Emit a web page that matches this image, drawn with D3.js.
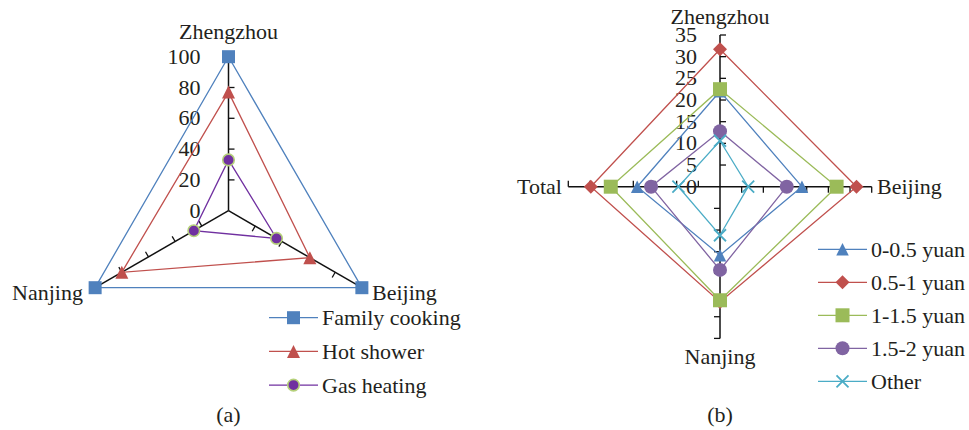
<!DOCTYPE html>
<html>
<head>
<meta charset="utf-8">
<script src="https://cdn.jsdelivr.net/npm/d3@7"></script>
<style>
  body { margin: 0; background: #fff; }
  svg text { font-family: "Liberation Serif", "Times New Roman", serif; font-size: 22px; fill: #231f20; }
</style>
</head>
<body>
<svg id="chart" width="969" height="430"></svg>
<script>
// chart (a)
const citiesA = ["Zhengzhou", "Beijing", "Nanjing"];
const familyCooking = [100, 100, 100];
const hotShower = [77, 61, 80];
const gasHeating = [33, 36, 26];
const ticksA = [0, 20, 40, 60, 80, 100];

// chart (b)
const citiesB = ["Zhengzhou", "Beijing", "Nanjing", "Total"];
const yuan0to05 = [22, 18.9, 15.8, 19.1];
const yuan05to1 = [31.7, 31.5, 26.6, 29.8];
const yuan1to15 = [22.5, 26.9, 26.2, 25.2];
const yuan15to2 = [12.8, 15.4, 19.2, 15.9];
const other = [10.6, 6.5, 11.2, 9.6];
const ticksB = [0, 5, 10, 15, 20, 25, 30, 35];

const svg = d3.select("#chart");

const colors = {
  blue: "#4f81bd", red: "#c0504d", green: "#9bbb59",
  purple: "#8064a2", cyan: "#4bacc6", violet: "#7030a0"
};

function addText(parent, x, y, anchor, str) {
  return parent.append("text").attr("x", x).attr("y", y)
    .attr("text-anchor", anchor).style("font-family", '"Liberation Serif"')
    .text(str);
}

function drawMarker(g, shape, s) {
  if (shape.type === "square") {
    g.append("rect").attr("x", -s / 2).attr("y", -s / 2).attr("width", s).attr("height", s)
      .attr("fill", shape.fill);
  } else if (shape.type === "triangle") {
    g.append("path").attr("d", `M0,${-s / 2}L${s / 2},${s / 2}L${-s / 2},${s / 2}Z`)
      .attr("fill", shape.fill);
  } else if (shape.type === "diamond") {
    const h = s / 2;
    g.append("path").attr("d", `M0,${-h}L${h},0L0,${h}L${-h},0Z`).attr("fill", shape.fill);
  } else if (shape.type === "circle") {
    g.append("circle").attr("r", s / 2).attr("fill", shape.fill)
      .attr("stroke", shape.stroke || "none").attr("stroke-width", 1.6);
  } else if (shape.type === "x") {
    const h = s / 2;
    g.append("path").attr("d", `M${-h},${-h}L${h},${h}M${-h},${h}L${h},${-h}`)
      .attr("stroke", shape.fill).attr("stroke-width", 1.8).attr("fill", "none");
  }
}

function drawRadar(cfg) {
  const g = svg.append("g").attr("transform", `translate(${cfg.cx},${cfg.cy})`);
  const r = d3.scaleLinear().domain([0, cfg.ticks[cfg.ticks.length - 1]]).range([0, cfg.radius]);
  const angle = d3.scalePoint().domain(cfg.cats).range([0, 2 * Math.PI * (cfg.cats.length - 1) / cfg.cats.length]);
  const pos = (c, v) => {
    const a = angle(c);
    return [r(v) * Math.sin(a), -r(v) * Math.cos(a)];
  };

  // axes with ticks (ticks sit on the clockwise side)
  cfg.cats.forEach(c => {
    const a = angle(c);
    const dx = Math.sin(a), dy = -Math.cos(a);
    const [ex, ey] = pos(c, cfg.ticks[cfg.ticks.length - 1]);
    g.append("line").attr("x1", 0).attr("y1", 0).attr("x2", ex).attr("y2", ey)
      .attr("stroke", "#111").attr("stroke-width", 1.5);
    cfg.ticks.slice(1).forEach(t => {
      const [tx, ty] = pos(c, t);
      g.append("line").attr("x1", tx).attr("y1", ty)
        .attr("x2", tx - dy * 6).attr("y2", ty + dx * 6)
        .attr("stroke", "#111").attr("stroke-width", 1.3);
    });
  });

  // tick labels on the first axis
  cfg.ticks.forEach(t => addText(g, cfg.tickLabelDx, -r(t) + 7, "end", t));

  // series
  const line = d3.lineRadial()
    .angle((d, i) => angle(cfg.cats[i]))
    .radius(d => r(d))
    .curve(d3.curveLinearClosed);

  cfg.series.forEach(s => {
    g.append("path").attr("d", line(s.values))
      .attr("fill", "none").attr("stroke", s.line).attr("stroke-width", 1.3);
    s.values.forEach((v, i) => {
      const [x, y] = pos(cfg.cats[i], v);
      drawMarker(g.append("g").attr("transform", `translate(${x},${y})`), s.marker, s.size);
    });
  });

  // category labels
  cfg.cats.forEach((c, i) => {
    const l = cfg.labels[i];
    addText(svg, l[0], l[1], l[2], c);
  });

  // legend
  cfg.series.forEach((s, i) => {
    const y = cfg.legend.y + i * cfg.legend.step;
    svg.append("line").attr("x1", cfg.legend.x).attr("x2", cfg.legend.x + 49)
      .attr("y1", y).attr("y2", y).attr("stroke", s.line).attr("stroke-width", 1.3);
    drawMarker(svg.append("g").attr("transform", `translate(${cfg.legend.x + 24.5},${y})`), s.marker, s.size);
    addText(svg, cfg.legend.x + 53, y + 7.5, "start", s.name);
  });

  addText(svg, cfg.cx, 422, "middle", cfg.caption);
}

drawRadar({
  cx: 228.5, cy: 210.7, radius: 154,
  cats: citiesA, ticks: ticksA, tickLabelDx: -28,
  labels: [[228.5, 39, "middle"], [372, 300, "start"], [83, 300, "end"]],
  legend: { x: 269, y: 317.7, step: 33.7 },
  caption: "(a)",
  series: [
    { name: "Family cooking", values: familyCooking, line: colors.blue, size: 13,
      marker: { type: "square", fill: colors.blue } },
    { name: "Hot shower", values: hotShower, line: colors.red, size: 13,
      marker: { type: "triangle", fill: colors.red } },
    { name: "Gas heating", values: gasHeating, line: colors.violet, size: 11.5,
      marker: { type: "circle", fill: colors.violet, stroke: "#b5d07a" } }
  ]
});

drawRadar({
  cx: 720, cy: 186.7, radius: 151.7,
  cats: citiesB, ticks: ticksB, tickLabelDx: -23,
  labels: [[720, 24, "middle"], [877, 193.5, "start"], [720, 363.5, "middle"], [562, 193.5, "end"]],
  legend: { x: 818, y: 249.3, step: 33 },
  caption: "(b)",
  series: [
    { name: "0-0.5 yuan", values: yuan0to05, line: colors.blue, size: 12.5,
      marker: { type: "triangle", fill: colors.blue } },
    { name: "0.5-1 yuan", values: yuan05to1, line: colors.red, size: 14,
      marker: { type: "diamond", fill: colors.red } },
    { name: "1-1.5 yuan", values: yuan1to15, line: colors.green, size: 14,
      marker: { type: "square", fill: colors.green } },
    { name: "1.5-2 yuan", values: yuan15to2, line: colors.purple, size: 14,
      marker: { type: "circle", fill: colors.purple } },
    { name: "Other", values: other, line: colors.cyan, size: 12,
      marker: { type: "x", fill: colors.cyan } }
  ]
});
</script>
</body>
</html>
